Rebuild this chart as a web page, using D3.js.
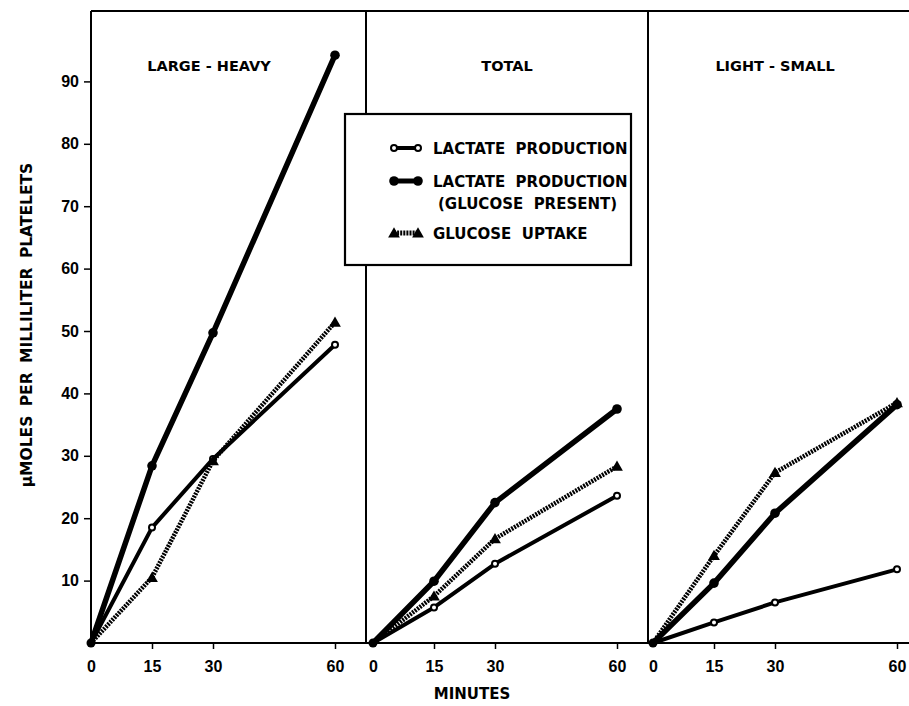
<!DOCTYPE html>
<html>
<head>
<meta charset="utf-8">
<script src="https://cdn.jsdelivr.net/npm/d3@7"></script>
<style>
  body { margin: 0; background: #fff; }
  svg { display: block; font-family: "DejaVu Sans", sans-serif; font-weight: bold; }
</style>
</head>
<body>
<div id="chart"></div>
<script>
const minutes = [0, 15, 30, 60];
const panelTitles = ['LARGE - HEAVY', 'TOTAL', 'LIGHT - SMALL'];
const yTicks = [10, 20, 30, 40, 50, 60, 70, 80, 90];

// one row per panel, values at 0, 15, 30, 60 minutes
const lactate = [
  [0, 18.5, 29.5, 47.8],
  [0, 5.7, 12.7, 23.6],
  [0, 3.3, 6.5, 11.8]
];
const lactateGlucose = [
  [0, 28.4, 49.7, 94.2],
  [0, 9.9, 22.5, 37.5],
  [0, 9.6, 20.8, 38.2]
];
const glucoseUptake = [
  [0, 10.5, 29.2, 51.4],
  [0, 7.5, 16.7, 28.3],
  [0, 14.0, 27.3, 38.5]
];
const legendLabels = [['LACTATE  PRODUCTION'], ['LACTATE  PRODUCTION', '(GLUCOSE  PRESENT)'], ['GLUCOSE  UPTAKE']];

const width = 909, height = 706;
const frameTop = 11, frameBottom = 643;
const panelLeft = [91, 366, 648];
const panelZero = [91, 373, 653];
const titleX = [209, 507, 775];

const svg = d3.select('#chart').append('svg')
  .attr('width', width)
  .attr('height', height);

const y = d3.scaleLinear().domain([0, 100]).range([frameBottom, frameBottom - 624]);

// frame
const frame = svg.append('g').attr('stroke', '#000').attr('stroke-width', 2);
frame.append('line').attr('x1', panelLeft[0]).attr('x2', width).attr('y1', frameTop).attr('y2', frameTop);
frame.append('line').attr('x1', panelLeft[0] - 1).attr('x2', width).attr('y1', frameBottom).attr('y2', frameBottom);
panelLeft.forEach(px => {
  frame.append('line').attr('x1', px).attr('x2', px).attr('y1', frameTop).attr('y2', frameBottom);
});

// y axis
const yAxis = svg.append('g')
  .attr('transform', `translate(${panelLeft[0]},0)`)
  .call(d3.axisLeft(y).tickValues(yTicks).tickSize(7).tickPadding(5));
yAxis.select('.domain').remove();
yAxis.selectAll('line').attr('stroke-width', 1.5);
yAxis.selectAll('text').attr('font-size', 16).attr('font-family', null).attr('fill', '#000');

svg.append('text')
  .attr('transform', `translate(32,${325}) rotate(-90)`)
  .attr('text-anchor', 'middle')
  .attr('font-size', 15.5)
  .attr('word-spacing', 4)
  .text('μMOLES PER MILLILITER PLATELETS');

svg.append('text')
  .attr('x', 472).attr('y', 699)
  .attr('text-anchor', 'middle')
  .attr('font-size', 15)
  .text('MINUTES');

const lineStyles = [
  { data: lactate, width: 4, dash: null, marker: 'open' },
  { data: glucoseUptake, width: 4.5, dash: '2,1.1', marker: 'triangle' },
  { data: lactateGlucose, width: 5.5, dash: null, marker: 'filled' }
];

function drawMarker(g, kind, cx, cy) {
  if (kind === 'open') {
    g.append('circle').attr('cx', cx).attr('cy', cy).attr('r', 3)
      .attr('fill', '#fff').attr('stroke', '#000').attr('stroke-width', 2);
  } else if (kind === 'filled') {
    g.append('circle').attr('cx', cx).attr('cy', cy).attr('r', 4.8).attr('fill', '#000');
  } else {
    g.append('path')
      .attr('d', d3.symbol(d3.symbolTriangle, 60)())
      .attr('transform', `translate(${cx},${cy + 1})`)
      .attr('fill', '#000');
  }
}

panelTitles.forEach((title, p) => {
  const x = d3.scaleLinear().domain([0, 60]).range([panelZero[p], panelZero[p] + 244]);

  const xAxis = svg.append('g')
    .attr('transform', `translate(0,${frameBottom})`)
    .call(d3.axisBottom(x).tickValues(minutes).tickSize(6).tickPadding(12));
  xAxis.select('.domain').remove();
  xAxis.selectAll('line').attr('stroke-width', 1.5).filter(d => d === 0).remove();
  xAxis.selectAll('text').attr('font-size', 16).attr('font-family', null).attr('fill', '#000');

  svg.append('text')
    .attr('x', titleX[p]).attr('y', 71)
    .attr('text-anchor', 'middle')
    .attr('font-size', 14.5)
    .text(title);

  const g = svg.append('g');
  lineStyles.forEach(s => {
    const line = d3.line().x((d, i) => x(minutes[i])).y(d => y(d));
    g.append('path')
      .datum(s.data[p])
      .attr('d', line)
      .attr('fill', 'none')
      .attr('stroke', '#000')
      .attr('stroke-width', s.width)
      .attr('stroke-dasharray', s.dash)
      .attr('stroke-linejoin', 'round');
    s.data[p].forEach((v, i) => {
      if (i === 0) return;
      drawMarker(g, s.marker, x(minutes[i]), y(v));
    });
  });
  g.append('circle').attr('cx', x(0)).attr('cy', y(0)).attr('r', 4.5).attr('fill', '#000');
});

// legend
const legend = svg.append('g');
legend.append('rect')
  .attr('x', 345).attr('y', 114)
  .attr('width', 286).attr('height', 151)
  .attr('fill', '#fff')
  .attr('stroke', '#000')
  .attr('stroke-width', 2.2);

const legendKinds = ['open', 'filled', 'triangle'];
const legendRowY = [148, 181, 233];
legendKinds.forEach((kind, i) => {
  const ly = legendRowY[i];
  legend.append('line')
    .attr('x1', 394).attr('x2', 418).attr('y1', ly).attr('y2', ly)
    .attr('stroke', '#000')
    .attr('stroke-width', kind === 'open' ? 4 : 5)
    .attr('stroke-dasharray', kind === 'triangle' ? '2,1.1' : null);
  drawMarker(legend, kind, 394, ly);
  drawMarker(legend, kind, 418, ly);
  legendLabels[i].forEach((t, k) => {
    legend.append('text')
      .attr('x', k === 0 ? 433 : 438)
      .attr('y', ly + 6 + k * 22)
      .attr('font-size', 15)
      .attr('xml:space', 'preserve')
      .style('white-space', 'pre')
      .text(t);
  });
});
</script>
</body>
</html>
